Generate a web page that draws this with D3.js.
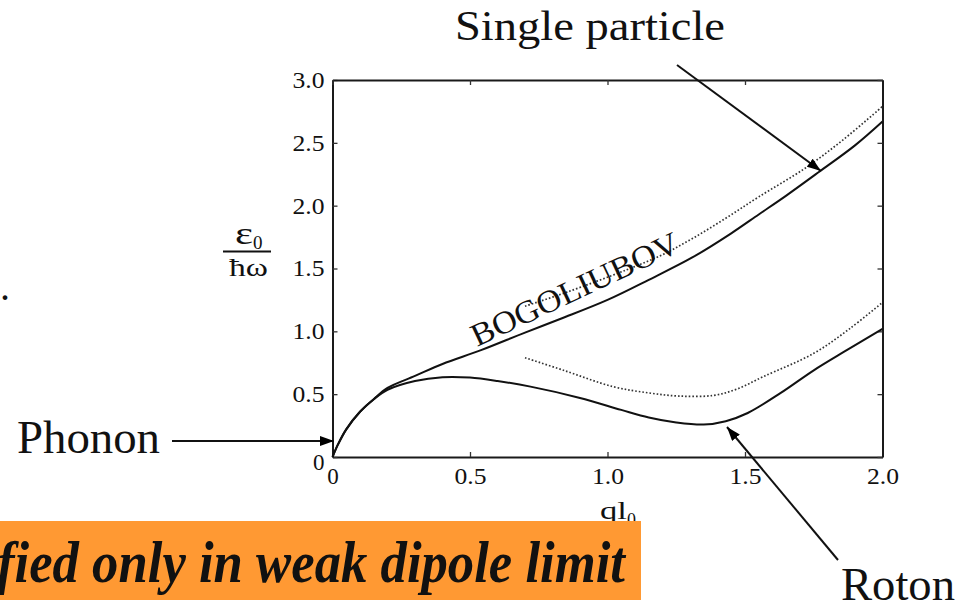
<!DOCTYPE html>
<html>
<head>
<meta charset="utf-8">
<script src="https://cdn.jsdelivr.net/npm/d3@7"></script>
<style>
  html, body { margin: 0; padding: 0; background: #fff; }
  svg { display: block; }
  text { font-family: "Liberation Serif", "Times New Roman", serif; fill: #111; }
</style>
</head>
<body>
<svg id="chart" width="970" height="600"></svg>
<script>
// ---- data ----
const xTicks = [0, 0.5, 1.0, 1.5, 2.0];
const xTickLabels = ["0", "0.5", "1.0", "1.5", "2.0"];
const yTicks = [0, 0.5, 1.0, 1.5, 2.0, 2.5, 3.0];
const yTickLabels = ["0", "0.5", "1.0", "1.5", "2.0", "2.5", "3.0"];

// Bogoliubov (upper solid branch)
const bogQ = [0, 0.02, 0.05, 0.1, 0.15, 0.2, 0.3, 0.4, 0.54, 0.7, 0.83, 1.0, 1.15, 1.31, 1.45, 1.55, 1.65, 1.77, 1.9, 2.0];
const bogE = [0, 0.1, 0.22, 0.36, 0.46, 0.55, 0.645, 0.74, 0.85, 0.99, 1.1, 1.25, 1.41, 1.59, 1.78, 1.93, 2.08, 2.27, 2.48, 2.67];

// Single particle (upper dotted)
const spQ = [0.7, 0.85, 1.07, 1.2, 1.31, 1.43, 1.55, 1.72, 1.86, 2.0];
const spE = [1.2, 1.31, 1.49, 1.61, 1.74, 1.9, 2.07, 2.3, 2.53, 2.79];

// Roton branch (lower solid)
const rotQ = [0, 0.02, 0.05, 0.1, 0.15, 0.2, 0.3, 0.4, 0.5, 0.6, 0.72, 0.9, 1.05, 1.15, 1.25, 1.35, 1.43, 1.51, 1.63, 1.75, 1.87, 2.0];
const rotE = [0, 0.1, 0.22, 0.36, 0.46, 0.535, 0.605, 0.635, 0.632, 0.605, 0.56, 0.47, 0.375, 0.315, 0.275, 0.258, 0.285, 0.35, 0.51, 0.69, 0.85, 1.02];

// Roton dotted
const rdQ = [0.7, 0.84, 1.02, 1.15, 1.26, 1.385, 1.47, 1.567, 1.75, 1.88, 2.0];
const rdE = [0.79, 0.69, 0.56, 0.51, 0.485, 0.49, 0.54, 0.64, 0.825, 1.02, 1.23];

// ---- drawing ----
const svg = d3.select("#chart");
const x = d3.scaleLinear().domain([0, 2]).range([332.5, 882.5]);
const y = d3.scaleLinear().domain([0, 3]).range([457, 80]);

const defs = svg.append("defs");
defs.append("marker")
  .attr("id", "arrow").attr("viewBox", "0 0 14 10")
  .attr("refX", 14).attr("refY", 5)
  .attr("markerWidth", 14).attr("markerHeight", 10)
  .attr("markerUnits", "userSpaceOnUse").attr("orient", "auto")
  .append("path").attr("d", "M0,0 L14,5 L0,10 Z").attr("fill", "#000");

const fmt = (labels, ticks) => d => labels[ticks.indexOf(d)];

// axes with inward ticks, mirrored on top/right
const gB = svg.append("g").attr("transform", `translate(0,${y(0)})`)
  .call(d3.axisBottom(x).tickValues(xTicks).tickFormat(fmt(xTickLabels, xTicks))
    .tickSizeInner(-5).tickSizeOuter(0).tickPadding(11));
const gL = svg.append("g").attr("transform", `translate(${x(0)},0)`)
  .call(d3.axisLeft(y).tickValues(yTicks).tickFormat(fmt(yTickLabels, yTicks))
    .tickSizeInner(-5).tickSizeOuter(0).tickPadding(8));
const gT = svg.append("g").attr("transform", `translate(0,${y(3)})`)
  .call(d3.axisTop(x).tickValues(xTicks).tickFormat("").tickSizeInner(-5).tickSizeOuter(0));
const gR = svg.append("g").attr("transform", `translate(${x(2)},0)`)
  .call(d3.axisRight(y).tickValues(yTicks).tickFormat("").tickSizeInner(-5).tickSizeOuter(0));

[gB, gL, gT, gR].forEach(g => {
  g.select(".domain").attr("stroke", "#1a1a1a").attr("stroke-width", 2);
  g.selectAll(".tick line").attr("stroke", "#333").attr("stroke-width", 1.3);
  g.selectAll(".tick text")
    .style("font-family", '"Liberation Serif", serif')
    .style("font-size", "23px").attr("fill", "#222");
});
gB.selectAll(".tick text").each(function(d) {
  const t = d3.select(this);
  if (t.text().length > 1) t.attr("textLength", 32).attr("lengthAdjust", "spacingAndGlyphs");
});
gL.selectAll(".tick text").each(function(d) {
  const t = d3.select(this);
  if (t.text().length > 1) t.attr("textLength", 32).attr("lengthAdjust", "spacingAndGlyphs");
  if (d === 0) t.attr("dy", "0.55em");
});

// curves
const line = d3.line().x(d => x(d[0])).y(d => y(d[1])).curve(d3.curveCatmullRom.alpha(0.5));
const zip = (a, b) => a.map((v, i) => [v, b[i]]);

const plot = svg.append("g");
plot.append("path").datum(zip(bogQ, bogE)).attr("d", line)
  .attr("fill", "none").attr("stroke", "#111").attr("stroke-width", 2);
plot.append("path").datum(zip(rotQ, rotE)).attr("d", line)
  .attr("fill", "none").attr("stroke", "#111").attr("stroke-width", 2);
plot.append("path").datum(zip(spQ, spE)).attr("d", line)
  .attr("fill", "none").attr("stroke", "#333").attr("stroke-width", 1.7)
  .attr("stroke-dasharray", "1.6,2");
plot.append("path").datum(zip(rdQ, rdE)).attr("d", line)
  .attr("fill", "none").attr("stroke", "#333").attr("stroke-width", 1.7)
  .attr("stroke-dasharray", "1.6,2");

// BOGOLIUBOV label along the curve
svg.append("text").attr("transform", "translate(477,347) rotate(-25.2)")
  .attr("font-size", 32).attr("textLength", 226).attr("lengthAdjust", "spacingAndGlyphs")
  .text("BOGOLIUBOV");

// y-axis label: ε0 / ħω
const yl = svg.append("g");
yl.append("text").attr("x", 235).attr("y", 244).attr("font-size", 31)
  .attr("textLength", 18).attr("lengthAdjust", "spacingAndGlyphs").text("ε");
yl.append("text").attr("x", 253).attr("y", 249).attr("font-size", 19).text("0");
yl.append("line").attr("x1", 223).attr("x2", 271).attr("y1", 251.5).attr("y2", 251.5)
  .attr("stroke", "#111").attr("stroke-width", 2);
yl.append("text").attr("x", 229).attr("y", 276).attr("font-size", 26)
  .attr("textLength", 39).attr("lengthAdjust", "spacingAndGlyphs").text("ħω");

// x-axis label: ql0
svg.append("text").attr("x", 600).attr("y", 519).attr("font-size", 26)
  .attr("textLength", 27).attr("lengthAdjust", "spacingAndGlyphs").text("ql");
svg.append("text").attr("x", 627).attr("y", 526).attr("font-size", 18).text("0");

// annotations
svg.append("text").attr("x", 455).attr("y", 40).attr("font-size", 42)
  .attr("textLength", 270).attr("lengthAdjust", "spacingAndGlyphs").text("Single particle");
svg.append("line").attr("x1", 677).attr("y1", 65).attr("x2", 821).attr("y2", 171)
  .attr("stroke", "#111").attr("stroke-width", 2).attr("marker-end", "url(#arrow)");

svg.append("text").attr("x", 17).attr("y", 453).attr("font-size", 46)
  .attr("textLength", 143).attr("lengthAdjust", "spacingAndGlyphs").text("Phonon");
svg.append("line").attr("x1", 172).attr("y1", 441).attr("x2", 334).attr("y2", 441)
  .attr("stroke", "#111").attr("stroke-width", 2).attr("marker-end", "url(#arrow)");

svg.append("text").attr("x", 841).attr("y", 600).attr("font-size", 46)
  .attr("textLength", 114).attr("lengthAdjust", "spacingAndGlyphs").text("Roton");
svg.append("line").attr("x1", 838).attr("y1", 560).attr("x2", 727).attr("y2", 427)
  .attr("stroke", "#111").attr("stroke-width", 2).attr("marker-end", "url(#arrow)");

svg.append("text").attr("x", 0).attr("y", 300).attr("font-size", 40).text(".");

// orange banner
svg.append("rect").attr("x", 0).attr("y", 521).attr("width", 641).attr("height", 79)
  .attr("fill", "#FF9933");
svg.append("text").attr("x", -3).attr("y", 582).attr("font-size", 60)
  .attr("font-weight", "bold").attr("font-style", "italic")
  .attr("textLength", 628).attr("lengthAdjust", "spacingAndGlyphs")
  .attr("fill", "#000").text("fied only in weak dipole limit");
</script>
</body>
</html>
